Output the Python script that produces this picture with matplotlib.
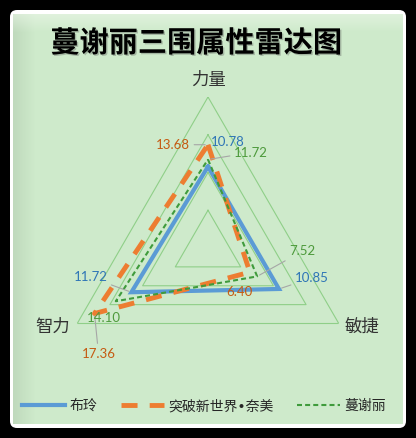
import numpy as np
import matplotlib
matplotlib.use("Agg")
import matplotlib.pyplot as plt
from matplotlib.patches import FancyBboxPatch
import matplotlib.patheffects as pe

# ---------------- data ----------------
categories = ["力量", "敏捷", "智力"]
series_names = ["布玲", "突破新世界•奈美", "蔓谢丽"]
bu_ling = [10.78, 10.85, 11.72]
nai_mei = [13.68, 6.40, 17.36]
man_xie_li = [11.72, 7.52, 14.10]
grid_levels = [5, 10, 15, 20]
title = "蔓谢丽三围属性雷达图"

W, H = 416, 438
fig = plt.figure(figsize=(W / 100, H / 100), dpi=100, facecolor="black")

# ---------------- background ----------------
bg = fig.add_axes([0, 0, 1, 1])
bg.set_xlim(0, W)
bg.set_ylim(H, 0)
bg.axis("off")
bg.add_patch(FancyBboxPatch((10, 10), 396, 418, boxstyle="round,pad=0,rounding_size=7",
                            facecolor="white", edgecolor="none"))
base = np.array([206, 234, 203]) / 255.0
nx, ny = 390, 410
img = np.ones((ny, nx, 3)) * base
xs = np.arange(nx)
ys = np.arange(ny)
left = np.clip(1 - xs / 22.0, 0, 1)[None, :, None]
img = img * (1 - 0.07 * left)
top = np.clip(1 - ys / 18.0, 0, 1)[:, None, None]
img = img + (np.array([0.93, 0.97, 0.92]) - img) * 0.55 * top
bg.imshow(img, extent=(13, 403, 424, 14), aspect="auto", interpolation="bilinear", zorder=1)

# ---------------- radar ----------------
cx, cy, R = 208, 248, 151
ax = fig.add_axes([(cx - R) / W, (H - cy - R) / H, 2 * R / W, 2 * R / H], projection="polar")
ax.set_theta_offset(np.pi / 2)
ax.set_theta_direction(-1)
ax.set_ylim(0, 20)
ax.grid(False)
ax.spines["polar"].set_visible(False)
ax.set_xticks([])
ax.set_yticks([])
ax.patch.set_alpha(0)

n = len(categories)
theta = np.arange(n) * 2 * np.pi / n
theta_c = np.append(theta, theta[0])

for lv in grid_levels:
    ax.plot(theta_c, [lv] * (n + 1), color="#8fcf88", lw=0.8, zorder=1)

def closed(v):
    return np.append(v, v[0])

l1, = ax.plot(theta_c, closed(bu_ling), color="#5b9bd5", lw=3.0, zorder=3,
              solid_joinstyle="miter")
l2, = ax.plot(theta_c, closed(nai_mei), color="#ed7d31", lw=3.5, zorder=4,
              dashes=(3.3, 2.5), dash_capstyle="butt")
l3, = ax.plot(theta_c, closed(man_xie_li), color="#3f9b3c", lw=1.5, zorder=5,
              dashes=(2.4, 1.5))

# axis category labels
cat_offsets = [(0, 168), (154, -79), (-155, -79)]
for i, c in enumerate(categories):
    ax.annotate(c, xy=(0, 0), xycoords="data", xytext=(cat_offsets[i][0] * 0.72, cat_offsets[i][1] * 0.72),
                textcoords="offset points", ha="center", va="center", fontsize=12.5,
                color="#333333", family=["Noto Sans CJK SC"])

# data labels: offsets in pixels (dx right, dy down) from the data vertex, leader flag
lab_color = ["#2e75b6", "#c55a11", "#4e9a3c"]
all_vals = [bu_ling, nai_mei, man_xie_li]
label_offsets = {
    (0, 0): ((20, -25), False), (1, 0): ((-35, 0), True), (2, 0): ((43, -7), True),
    (0, 1): ((33, -11), True), (1, 1): ((-10, 20), False), (2, 1): ((45, -25), True),
    (0, 2): ((-41, -15), True), (1, 2): ((4, 40), True), (2, 2): ((-12, 17), False),
}
for s, vals in enumerate(all_vals):
    for i, v in enumerate(vals):
        (dx, dy), lead = label_offsets[(s, i)]
        ap = dict(arrowstyle="-", color="#a6a6a6", lw=0.8, shrinkA=1, shrinkB=2) if lead else None
        ax.annotate(f"{v:.2f}", xy=(theta[i], v), xycoords="data",
                    xytext=(dx * 0.72, -dy * 0.72), textcoords="offset points",
                    ha="center", va="center", fontsize=9.5, color=lab_color[s],
                    family="Lato", arrowprops=ap, zorder=6)

# title
fig.text(196 / W, 1 - 43 / H, title, ha="center", va="center", fontsize=21,
         fontweight="bold", color="black", family=["Noto Sans CJK SC"],
         path_effects=[pe.withSimplePatchShadow(offset=(1, -1), shadow_rgbFace="#555555", alpha=0.35)])

# legend
leg = fig.legend([l1, l2, l3], series_names, loc="center",
                 bbox_to_anchor=(204 / W, 1 - 406 / H), ncol=3, frameon=False,
                 handlelength=3.1, handletextpad=0.3, columnspacing=1.7,
                 prop={"family": ["DejaVu Sans", "Noto Sans CJK SC"], "size": 10})
for t in leg.get_texts():
    t.set_color("#262626")

fig.savefig("out.png", dpi=100, facecolor="black")
